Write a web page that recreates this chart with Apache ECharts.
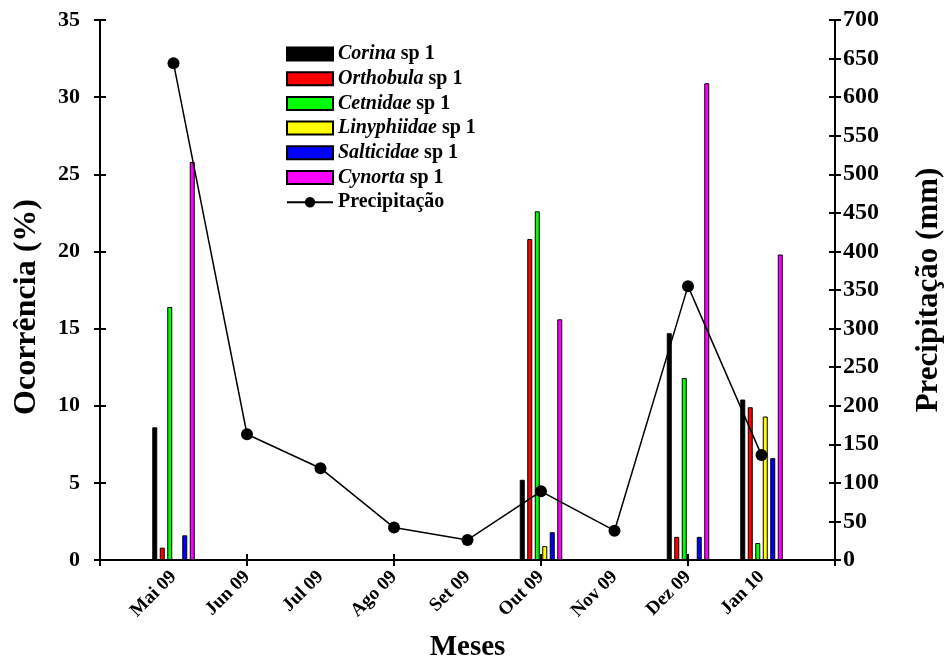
<!DOCTYPE html>
<html>
<head>
<meta charset="utf-8">
<script src="https://cdn.jsdelivr.net/npm/echarts@6/dist/echarts.min.js"></script>
<style>
  html, body { margin: 0; padding: 0; background: #fff; }
  #chart { width: 944px; height: 661px; }
</style>
</head>
<body>
<div id="chart"></div>
<script>
// month positions on the x axis: 0 = Abr 09 (axis start), 10 = Fev 10 (axis end)
const tickLabels = ['', 'Mai 09', 'Jun 09', 'Jul 09', 'Ago 09', 'Set 09', 'Out 09', 'Nov 09', 'Dez 09', 'Jan 10', ''];

// occurrence (%) per species, only months with samples
const barMonths = ['Mai 09', 'Out 09', 'Dez 09', 'Jan 10'];
const corina = [8.6, 5.2, 14.7, 10.4];
const orthobula = [0.8, 20.8, 1.5, 9.9];
const cetnidae = [16.4, 22.6, 11.8, 1.1];
const linyphiidae = [null, 0.9, null, 9.3];
const salticidae = [1.6, 1.8, 1.5, 6.6];
const cynorta = [25.8, 15.6, 30.9, 19.8];

// rainfall (mm)
const precipMonths = ['Mai 09', 'Jun 09', 'Jul 09', 'Ago 09', 'Set 09', 'Out 09', 'Nov 09', 'Dez 09', 'Jan 10'];
const precipitacao = [644, 163, 119, 42, 26, 89, 38, 355, 136];

const FONT = "'Liberation Serif', 'Times New Roman', serif";

const species = [
  { genus: 'Corina', values: corina, color: '#000000' },
  { genus: 'Orthobula', values: orthobula, color: '#ff0000' },
  { genus: 'Cetnidae', values: cetnidae, color: '#00ff00' },
  { genus: 'Linyphiidae', values: linyphiidae, color: '#ffff00' },
  { genus: 'Salticidae', values: salticidae, color: '#0000ff' },
  { genus: 'Cynorta', values: cynorta, color: '#ff00ff' }
];

const monthPos = m => tickLabels.indexOf(m);

const barSeries = species.map(s => ({
  name: s.genus + ' sp 1',
  type: 'bar',
  xAxisIndex: 0,
  yAxisIndex: 0,
  barWidth: 5,
  barGap: '50%',
  itemStyle: { color: s.color, borderColor: '#000', borderWidth: 1 },
  data: barMonths
    .map((m, i) => [monthPos(m), s.values[i]])
    .filter(d => d[1] !== null)
}));

const lineSeries = {
  name: 'Precipitação',
  type: 'line',
  xAxisIndex: 0,
  yAxisIndex: 1,
  symbol: 'circle',
  symbolSize: 12,
  itemStyle: { color: '#000' },
  lineStyle: { color: '#000', width: 1.5 },
  data: precipMonths.map((m, i) => [monthPos(m), precipitacao[i]])
};

const black = { color: '#000', width: 2 };

// extra axes drawing only inward ticks, so ticks cross the axis lines
function innerTicks(base, position) {
  return Object.assign({
    position: position,
    axisLine: { show: false, onZero: false },
    axisTick: { show: true, inside: true, length: 6, lineStyle: black },
    axisLabel: { show: false },
    splitLine: { show: false }
  }, base);
}

const yLeft = { type: 'value', min: 0, max: 35, interval: 5 };
const yRight = { type: 'value', min: 0, max: 700, interval: 50 };
const xTicks = { type: 'value', min: 0, max: 10, interval: 2 };

const myChart = echarts.init(document.getElementById('chart'));

const option = {
  backgroundColor: '#fff',
  animation: false,
  textStyle: { fontFamily: FONT },
  grid: { left: 100, right: 109, top: 20, bottom: 101, containLabel: false, outerBoundsMode: 'none' },
  legend: {
    orient: 'vertical',
    left: 281,
    top: 39,
    itemWidth: 46,
    itemHeight: 13,
    itemGap: 4.7,
    data: species.map(s => ({ name: s.genus + ' sp 1', icon: 'rect' })).concat([{ name: 'Precipitação' }]),
    formatter: name => {
      if (name.indexOf(' sp 1') > 0) {
        return '{i|' + name.replace(' sp 1', '') + '} {b|sp 1}';
      }
      return '{b|' + name + '}';
    },
    textStyle: {
      fontFamily: FONT,
      fontSize: 20,
      color: '#000',
      rich: {
        i: { fontFamily: FONT, fontSize: 20, fontStyle: 'italic', fontWeight: 'bold', color: '#000' },
        b: { fontFamily: FONT, fontSize: 20, fontWeight: 'bold', color: '#000' }
      }
    }
  },
  xAxis: [
    {
      type: 'value',
      min: 0,
      max: 10,
      interval: 1,
      position: 'bottom',
      name: 'Meses',
      nameLocation: 'middle',
      nameGap: 73,
      nameTextStyle: { fontFamily: FONT, fontSize: 29, fontWeight: 'bold', color: '#000' },
      axisLine: { onZero: false, lineStyle: black },
      axisTick: { show: false },
      axisLabel: {
        rotate: 45,
        margin: 14,
        fontFamily: FONT,
        fontSize: 19,
        fontWeight: 'bold',
        color: '#000',
        formatter: v => tickLabels[v] || ''
      },
      splitLine: { show: false }
    },
    Object.assign({}, xTicks, {
      position: 'bottom',
      axisLine: { show: false, onZero: false },
      axisTick: { show: true, length: 6, lineStyle: black },
      axisLabel: { show: false },
      splitLine: { show: false }
    }),
    innerTicks(xTicks, 'bottom')
  ],
  yAxis: [
    Object.assign({}, yLeft, {
      position: 'left',
      name: 'Ocorrência (%)',
      nameLocation: 'middle',
      nameGap: 57,
      nameTextStyle: { fontFamily: FONT, fontSize: 32, fontWeight: 'bold', color: '#000', padding: [0, 34, 0, 0] },
      axisLine: { show: true, onZero: false, lineStyle: black },
      axisTick: { show: true, length: 6, lineStyle: black },
      axisLabel: { margin: 20, fontFamily: FONT, fontSize: 22, fontWeight: 'bold', color: '#000' },
      splitLine: { show: false }
    }),
    Object.assign({}, yRight, {
      position: 'right',
      name: 'Precipitação (mm)',
      nameLocation: 'middle',
      nameGap: 78,
      nameRotate: 90,
      nameTextStyle: { fontFamily: FONT, fontSize: 31, fontWeight: 'bold', color: '#000' },
      axisLine: { show: true, onZero: false, lineStyle: black },
      axisTick: { show: true, length: 6, lineStyle: black },
      axisLabel: { margin: 8, fontFamily: FONT, fontSize: 24, fontWeight: 'bold', color: '#000' },
      splitLine: { show: false }
    }),
    innerTicks(yLeft, 'left'),
    innerTicks(yRight, 'right')
  ],
  series: barSeries.concat([lineSeries])
};

myChart.setOption(option);
</script>
</body>
</html>
